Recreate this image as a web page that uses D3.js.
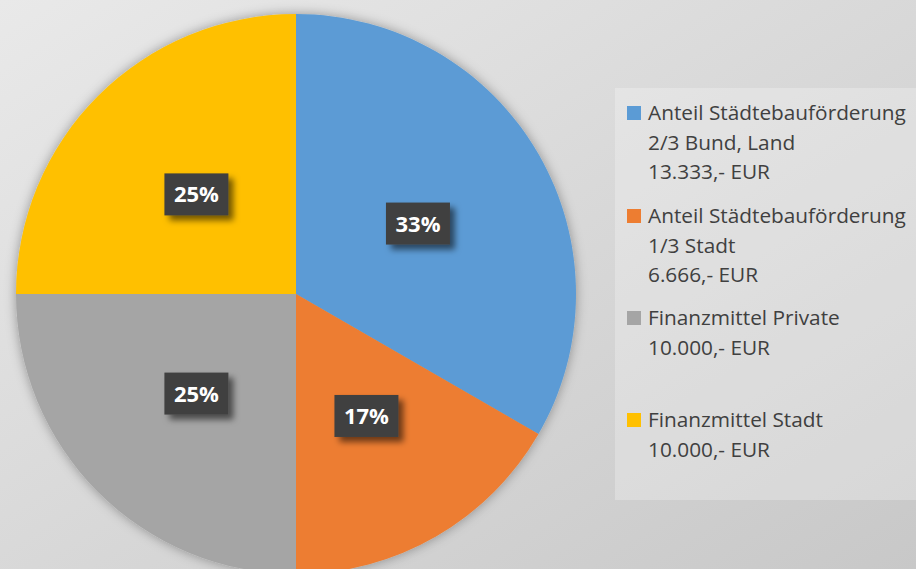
<!DOCTYPE html>
<html>
<head>
<meta charset="utf-8">
<script src="https://cdn.jsdelivr.net/npm/d3@7"></script>
<style>
  body { margin: 0; padding: 0; overflow: hidden; }
  svg { display: block; }
</style>
</head>
<body>
<div id="graf"></div>
<script>
// Finanzierung - Kreisdiagramm

categorias = ['Anteil Städtebauförderung', 'Anteil Städtebauförderung', 'Finanzmittel Private', 'Finanzmittel Stadt']
lineas2 = ['2/3 Bund, Land', '1/3 Stadt', null, null]
montos = ['13.333,- EUR', '6.666,- EUR', '10.000,- EUR', '10.000,- EUR']
valores = [13333, 6666, 10000, 10000]
etiquetas = ['33%', '17%', '25%', '25%']
colores = ['#5B9BD5', '#ED7D31', '#A5A5A5', '#FFC000']

ancho_total = 916
alto_total = 569

svg = d3.select('#graf').append('svg')
        .attr('width', ancho_total)
        .attr('height', alto_total)

defs = svg.append('defs')

// fondo degradado
grad = defs.append('linearGradient')
           .attr('id', 'fondo')
           .attr('x1', 0).attr('y1', 0).attr('x2', 1).attr('y2', 1)
grad.append('stop').attr('offset', '0%').attr('stop-color', '#e9e9e9')
grad.append('stop').attr('offset', '100%').attr('stop-color', '#c8c8c8')

// sombra del pastel
sombra = defs.append('filter').attr('id', 'sombra')
             .attr('x', '-10%').attr('y', '-10%').attr('width', '120%').attr('height', '120%')
sombra.append('feDropShadow')
      .attr('dx', 0).attr('dy', 0)
      .attr('stdDeviation', 6)
      .attr('flood-color', '#000').attr('flood-opacity', 0.35)

// sombra de etiquetas
sombraEt = defs.append('filter').attr('id', 'sombraEt')
               .attr('x', '-30%').attr('y', '-30%').attr('width', '160%').attr('height', '160%')
sombraEt.append('feDropShadow')
        .attr('dx', 5).attr('dy', 5)
        .attr('stdDeviation', 3)
        .attr('flood-color', '#000').attr('flood-opacity', 0.55)

svg.append('rect')
   .attr('width', ancho_total)
   .attr('height', alto_total)
   .attr('fill', 'url(#fondo)')

// Pastel
radio = 280
centro = { x: 296, y: 294 }

color = d3.scaleOrdinal()
          .domain(d3.range(valores.length))
          .range(colores)

pie = d3.pie().sort(null).value(d => d)
arcos = pie(valores)

arcGen = d3.arc().innerRadius(0).outerRadius(radio)
etiquetaArc = d3.arc().innerRadius(radio * 0.503).outerRadius(radio * 0.503)

g = svg.append('g')
       .attr('transform', `translate(${centro.x}, ${centro.y})`)

g.append('g')
 .attr('filter', 'url(#sombra)')
 .selectAll('path')
 .data(arcos)
 .join('path')
   .attr('d', arcGen)
   .attr('fill', (d, i) => color(i))

etq = g.selectAll('g.etq')
       .data(arcos)
       .join('g')
         .attr('class', 'etq')
         .attr('transform', d => `translate(${etiquetaArc.centroid(d)})`)

etq.append('rect')
   .attr('x', -32).attr('y', -21)
   .attr('width', 64).attr('height', 42)
   .attr('fill', '#404040')
   .attr('filter', 'url(#sombraEt)')

etq.append('text')
   .attr('text-anchor', 'middle')
   .attr('dy', '0.36em')
   .attr('fill', '#ffffff')
   .style('font-family', '"Open Sans", "Noto Sans", sans-serif')
   .style('font-weight', 'bold')
   .style('font-size', '22px')
   .text((d, i) => etiquetas[i])

// Leyenda
leyenda = svg.append('g')

leyenda.append('rect')
       .attr('x', 615).attr('y', 88)
       .attr('width', 301).attr('height', 412)
       .attr('fill', '#ffffff')
       .attr('fill-opacity', 0.25)

posY = [113, 216, 318, 420]
paso = 29.5

items = leyenda.selectAll('g.item')
               .data(categorias)
               .join('g')
                 .attr('class', 'item')
                 .attr('transform', (d, i) => `translate(627, ${posY[i]})`)

items.append('rect')
     .attr('x', 0).attr('y', -7)
     .attr('width', 14).attr('height', 14)
     .attr('fill', (d, i) => color(i))

items.each(function(d, i) {
  lineas = [d, lineas2[i], montos[i]].filter(t => t)
  d3.select(this).selectAll('text')
    .data(lineas)
    .join('text')
      .attr('x', 21)
      .attr('y', (t, j) => j * paso)
      .attr('dy', '0.35em')
      .attr('fill', '#404040')
      .style('font-family', '"Open Sans", "Noto Sans", sans-serif')
      .style('font-size', '20.8px')
      .text(t => t)
})
</script>
</body>
</html>
